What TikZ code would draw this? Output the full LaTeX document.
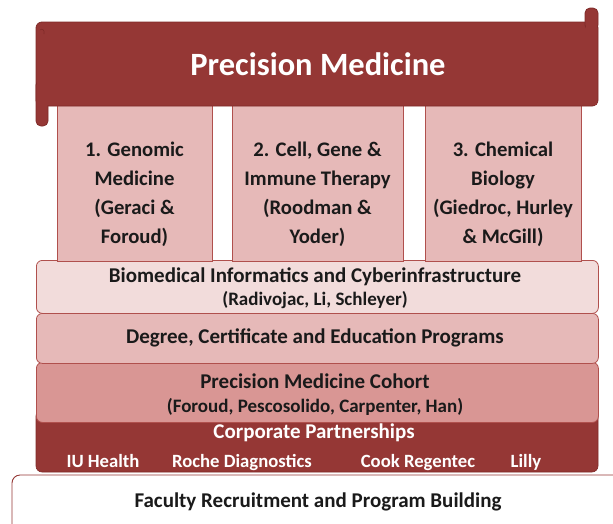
\documentclass[tikz,border=0pt]{standalone}
\usepackage{fontspec}
\setmainfont{Carlito}
\definecolor{dred}{HTML}{953735}
\definecolor{dredline}{HTML}{7F2A28}
\definecolor{colfill}{HTML}{E6B9B8}
\definecolor{colline}{HTML}{B0504D}
\definecolor{bioband}{HTML}{F2DCDB}
\definecolor{degband}{HTML}{E6B9B8}
\definecolor{cohband}{HTML}{D99694}
\definecolor{txt}{HTML}{1A1A1A}
\begin{document}
\begin{tikzpicture}[x=1pt,y=-1pt,
  colbox/.style={draw=colline, line width=0.8pt, fill=colfill, anchor=north west, minimum width=155pt, inner sep=0pt},
  band/.style={draw=colline, line width=0.8pt, rounded corners=6pt, anchor=north west, minimum width=562pt, inner sep=0pt},
  coltext/.style={font=\bfseries\fontsize{20.7}{29}\selectfont, text=txt, align=center},
  bandtitle/.style={font=\bfseries\fontsize{21}{24}\selectfont, text=txt},
  bandsub/.style={font=\bfseries\fontsize{19}{22}\selectfont, text=txt},
  whitetext/.style={font=\bfseries\fontsize{21}{24}\selectfont, text=white},
  partner/.style={font=\bfseries\fontsize{18.7}{22}\selectfont, text=white, anchor=base}
]
\useasboundingbox (0,0) rectangle (613,523);
% foundation
\path[draw=dred, line width=0.9pt, fill=white, rounded corners=8pt] (12,540) -- (12,475) -- (630,475) -- (630,540);
\node[bandtitle] (factext) at (318,502) {Faculty Recruitment and Program Building};
% corporate
\path[fill=dred, draw=dredline, line width=0.6pt, rounded corners=6pt] (36,410) -- (36,472) -- (598,472) -- (598,410) -- cycle;
\node[whitetext] (corp) at (314,433) {Corporate Partnerships};
\node[partner] (iu) at (103,467) {IU Health};
\node[partner] (roche) at (242,467) {Roche Diagnostics};
\node[partner] (cook) at (418,467) {Cook Regentec};
\node[partner] (lilly) at (526,467) {Lilly};
% cohort
\node[band, fill=cohband, minimum height=60pt] (cohort) at (36,362) {};
\node[bandtitle] (cohorttitle) at (315,381) {Precision Medicine Cohort};
\node[bandsub] (cohortsub) at (315,407) {(Foroud, Pescosolido, Carpenter, Han)};
% degree
\node[band, fill=degband, minimum height=50pt] (degree) at (36,313) {};
\node[bandtitle] (degreetext) at (315,338) {Degree, Certificate and Education Programs};
% biomedical
\node[band, fill=bioband, minimum height=53pt] (bio) at (36,260) {};
\node[bandtitle] (biotitle) at (315,277) {Biomedical Informatics and Cyberinfrastructure};
\node[bandsub] (biosub) at (315,300) {(Radivojac, Li, Schleyer)};
% columns
\node[colbox, minimum height=160pt] (c1) at (57,101) {};
\node[colbox, minimum width=171pt, minimum height=160pt] (c2) at (232,101) {};
\node[colbox, minimum width=156pt, minimum height=160pt] (c3) at (425,101) {};
\node[coltext] (c1t) at (134.5,194) {1. Genomic\\Medicine\\(Geraci \&\\Foroud)};
\node[coltext] (c2t) at (317.5,194) {2. Cell, Gene \&\\Immune Therapy\\(Roodman \&\\Yoder)};
\node[coltext] (c3t) at (503,194) {3. Chemical\\Biology\\(Giedroc, Hurley\\\& McGill)};
% banner scroll
\path[fill=dred, draw=dredline, line width=0.8pt, rounded corners=6pt] (36,22) rectangle (598,106);
\path[fill=dred, draw=dredline, line width=0.8pt, rounded corners=5pt] (585,8) rectangle (598,30);
\path[fill=dred, draw=dredline, line width=0.8pt, rounded corners=5pt] (36,80) rectangle (48,126);
\path[fill=dred] (37,60) rectangle (597,105);
\path[fill=dred] (586,22) rectangle (597,40);
\draw[dredline, line width=0.6pt] (40,30) .. controls (42,28) and (45,30) .. (44,34);
\node[font=\bfseries\fontsize{32.5}{38}\selectfont, text=white] (pm) at (318,64) {Precision Medicine};
\end{tikzpicture}
\end{document}
